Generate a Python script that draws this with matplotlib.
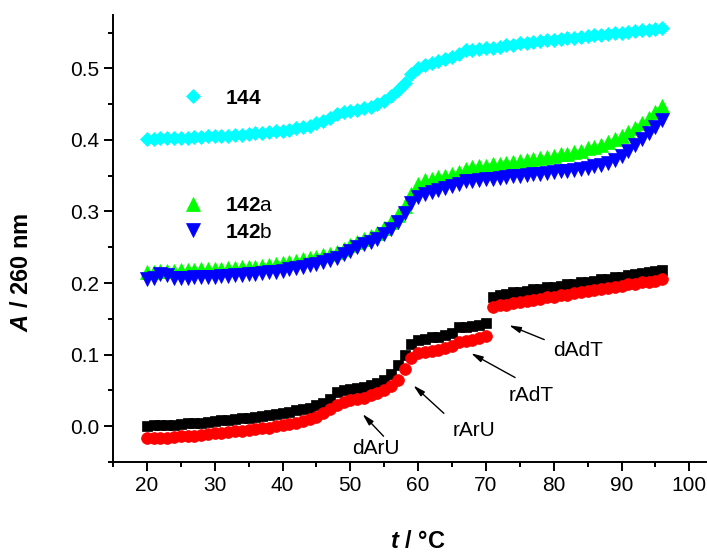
import matplotlib
matplotlib.use("Agg")
import matplotlib.pyplot as plt
from matplotlib.ticker import MultipleLocator, FormatStrFormatter

plt.rcParams['font.family'] = ['Liberation Sans', 'DejaVu Sans']
plt.rcParams['mathtext.fontset'] = 'custom'
plt.rcParams['mathtext.rm'] = 'Liberation Sans'
plt.rcParams['mathtext.it'] = 'Liberation Sans:italic'
plt.rcParams['mathtext.bf'] = 'Liberation Sans:bold'
plt.rcParams['mathtext.bfit'] = 'Liberation Sans:italic:bold'

temps = list(range(20, 97))

a144 = [0.401, 0.401, 0.402, 0.402, 0.402, 0.403, 0.403, 0.404, 0.404, 0.405,
        0.405, 0.406, 0.406, 0.407, 0.407, 0.408, 0.409, 0.410, 0.411, 0.412,
        0.413, 0.414, 0.416, 0.418, 0.420, 0.423, 0.426, 0.430, 0.436, 0.439,
        0.441, 0.442, 0.444, 0.446, 0.450, 0.455, 0.462, 0.470, 0.480, 0.492,
        0.500, 0.505, 0.508, 0.510, 0.513, 0.516, 0.520, 0.525, 0.526, 0.527,
        0.528, 0.529, 0.530, 0.532, 0.533, 0.535, 0.536, 0.537, 0.538, 0.539,
        0.540, 0.541, 0.542, 0.543, 0.544, 0.545, 0.546, 0.547, 0.548, 0.549,
        0.550, 0.551, 0.552, 0.553, 0.554, 0.555, 0.557]

a142a = [0.216, 0.216, 0.217, 0.217, 0.217, 0.218, 0.218, 0.218, 0.219, 0.219,
         0.220, 0.220, 0.221, 0.221, 0.222, 0.222, 0.223, 0.224, 0.225, 0.226,
         0.228, 0.229, 0.231, 0.233, 0.235, 0.237, 0.239, 0.241, 0.244, 0.248,
         0.253, 0.258, 0.262, 0.266, 0.270, 0.277, 0.285, 0.295, 0.308, 0.324,
         0.338, 0.344, 0.346, 0.348, 0.350, 0.352, 0.355, 0.360, 0.362, 0.363,
         0.364, 0.366, 0.367, 0.368, 0.369, 0.371, 0.372, 0.373, 0.375, 0.376,
         0.378, 0.380, 0.381, 0.383, 0.385, 0.388, 0.390, 0.393, 0.397, 0.401,
         0.406, 0.411, 0.417, 0.424, 0.431, 0.439, 0.448]

a142b = [0.206, 0.207, 0.212, 0.211, 0.207, 0.207, 0.207, 0.208, 0.208, 0.209,
         0.209, 0.210, 0.210, 0.211, 0.211, 0.212, 0.213, 0.214, 0.215, 0.216,
         0.217, 0.219, 0.221, 0.223, 0.225, 0.227, 0.229, 0.232, 0.235, 0.240,
         0.245, 0.250, 0.254, 0.258, 0.262, 0.268, 0.276, 0.286, 0.298, 0.312,
         0.320, 0.324, 0.327, 0.330, 0.333, 0.336, 0.339, 0.342, 0.343, 0.344,
         0.345, 0.346, 0.347, 0.348, 0.349, 0.350, 0.351, 0.352, 0.353, 0.354,
         0.355, 0.356, 0.357, 0.358, 0.359, 0.361, 0.363, 0.365, 0.368, 0.372,
         0.378, 0.385, 0.393, 0.401, 0.409, 0.418, 0.428]

a_black = [0.000, 0.001, 0.001, 0.002, 0.002, 0.003, 0.004, 0.004, 0.005, 0.006,
           0.007, 0.008, 0.009, 0.010, 0.011, 0.012, 0.013, 0.014, 0.015, 0.017,
           0.018, 0.020, 0.022, 0.024, 0.026, 0.029, 0.033, 0.038, 0.048, 0.050,
           0.052, 0.053, 0.055, 0.057, 0.060, 0.065, 0.073, 0.085, 0.100, 0.115,
           0.121, 0.122, 0.124, 0.125, 0.127, 0.130, 0.138, 0.139, 0.140, 0.141,
           0.144, 0.180, 0.184, 0.185, 0.187, 0.188, 0.189, 0.191, 0.192, 0.194,
           0.195, 0.196, 0.198, 0.199, 0.201, 0.202, 0.203, 0.205, 0.206, 0.208,
           0.209, 0.211, 0.212, 0.214, 0.215, 0.217, 0.218]

a_red = [-0.017, -0.017, -0.016, -0.016, -0.015, -0.014, -0.013, -0.013, -0.012, -0.011,
         -0.010, -0.009, -0.008, -0.007, -0.006, -0.005, -0.004, -0.003, -0.002, 0.000,
         0.001, 0.003, 0.005, 0.007, 0.010, 0.013, 0.018, 0.024, 0.030, 0.034,
         0.036, 0.038, 0.040, 0.043, 0.046, 0.050, 0.056, 0.065, 0.080, 0.095,
         0.102, 0.104, 0.105, 0.107, 0.109, 0.112, 0.118, 0.119, 0.121, 0.123,
         0.126, 0.166, 0.169, 0.170, 0.172, 0.174, 0.175, 0.177, 0.178, 0.180,
         0.181, 0.183, 0.184, 0.186, 0.187, 0.189, 0.190, 0.192, 0.193, 0.195,
         0.196, 0.198, 0.199, 0.201, 0.202, 0.203, 0.205]

# annotations: label, text position, arrow tail, arrow head (data coords)
ann_labels = ['dArU', 'rArU', 'rAdT', 'dAdT']
ann_text_xy = [(53.7, -0.031), (68.2, -0.006), (76.7, 0.043), (83.6, 0.106)]
ann_tail_xy = [(54.9, -0.014), (63.8, 0.018), (74.3, 0.068), (78.6, 0.121)]
ann_head_xy = [(51.8, 0.017), (59.3, 0.057), (67.8, 0.102), (73.4, 0.141)]

fig = plt.figure(figsize=(7.07, 5.58), dpi=100)
ax = fig.add_axes([113/707, 1 - 462/558, 1 - 113/707, (462 - 15)/558])

ax.plot(temps, a_black, ls='none', marker='s', ms=7.5, color='black', mew=0.5)
ax.plot(temps, a_red, ls='none', marker='o', ms=8.5, color='#ff0000', mew=0.5)
l_c, = ax.plot(temps, a144, ls='none', marker='D', ms=7.2, color='#00ffff', mew=0.5)
l_a, = ax.plot(temps, a142a, ls='none', marker='^', ms=10, color='#00ff00', mew=0.5)
l_b, = ax.plot(temps, a142b, ls='none', marker='v', ms=10, color='#0000ff', mew=0.5)

for lab, txy, tail, head in zip(ann_labels, ann_text_xy, ann_tail_xy, ann_head_xy):
    ax.text(txy[0], txy[1], lab, fontsize=15, ha='center', va='center')
    ax.annotate('', xy=head, xytext=tail,
                arrowprops=dict(arrowstyle='-|>,head_width=0.18,head_length=0.7',
                                color='black', lw=1, shrinkA=0, shrinkB=0))

leg1 = ax.legend([l_c], [r'$\mathbf{144}$'], loc='center left', frameon=False,
                 bbox_to_anchor=(183/707, 1 - 98/558), bbox_transform=fig.transFigure,
                 handlelength=1.0, handletextpad=1.0, borderpad=0, borderaxespad=0,
                 fontsize=15, numpoints=1)
ax.add_artist(leg1)
ax.legend([l_a, l_b], [r'$\mathbf{142}$a', r'$\mathbf{142}$b'], loc='center left',
          frameon=False, bbox_to_anchor=(183/707, 1 - 219/558),
          bbox_transform=fig.transFigure, handlelength=1.0, handletextpad=1.0,
          borderpad=0, borderaxespad=0, labelspacing=0.35, fontsize=15, numpoints=1)

ax.set_xlim(15, 102.6)
ax.set_ylim(-0.05, 0.5745)
ax.xaxis.set_minor_locator(MultipleLocator(5))
ax.set_xticks([20, 30, 40, 50, 60, 70, 80, 90, 100])
ax.yaxis.set_major_locator(MultipleLocator(0.1))
ax.yaxis.set_minor_locator(MultipleLocator(0.05))
ax.yaxis.set_major_formatter(FormatStrFormatter('%.1f'))

for s in ['top', 'right']:
    ax.spines[s].set_visible(False)
for s in ['left', 'bottom']:
    ax.spines[s].set_linewidth(1.4)
ax.tick_params(which='major', direction='out', length=6.5, width=1.4, labelsize=15)
ax.tick_params(which='minor', direction='out', length=3.6, width=1.4)

ax.set_ylabel(r'$\mathbfit{A}$ / 260 nm', fontsize=17, fontweight='bold')
ax.set_xlabel(r'$\mathbfit{t}$ / °C', fontsize=17, fontweight='bold')
ax.yaxis.set_label_coords((33 - 113)/594, (462 - 272)/447)
ax.xaxis.set_label_coords((418 - 113)/594, -(530 - 462)/447)

fig.savefig('out.png', dpi=100)
